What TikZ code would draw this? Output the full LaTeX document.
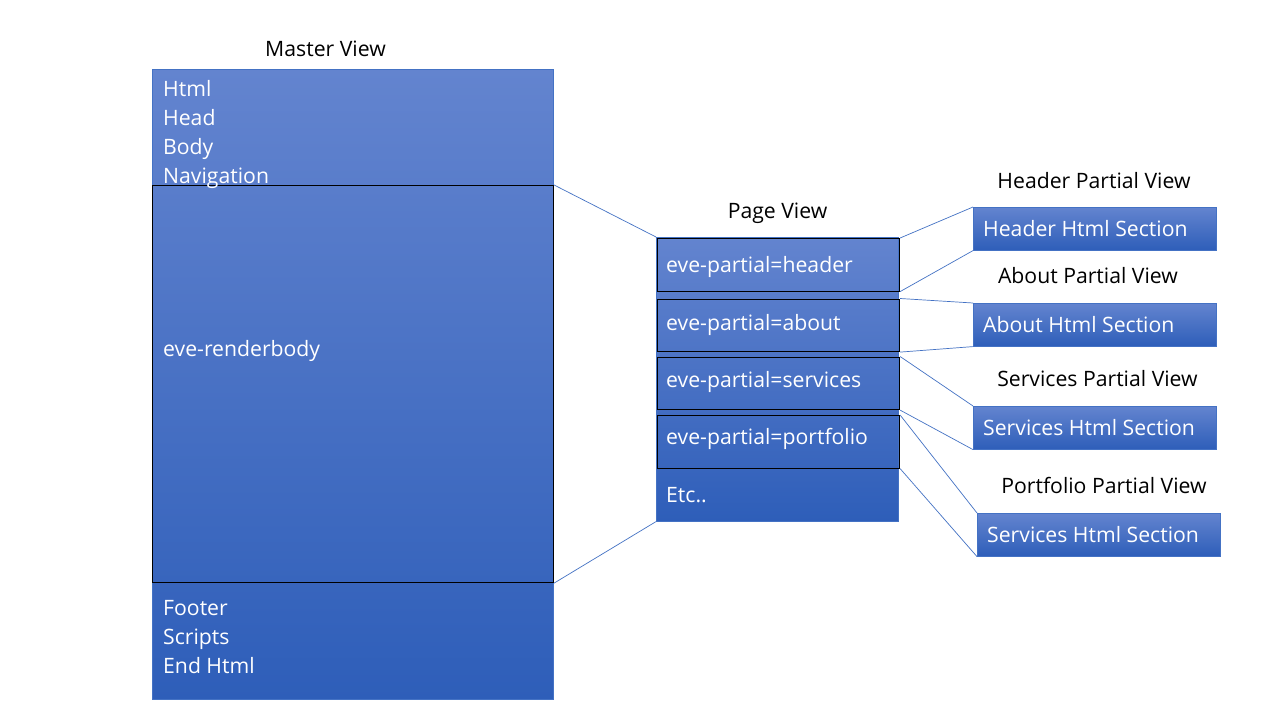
\documentclass[tikz,border=0pt]{standalone}
\usepackage{fontspec}
\setmainfont{Open Sans}
\definecolor{boxtop}{HTML}{6384CF}
\definecolor{boxbot}{HTML}{2E5EB9}
\definecolor{linkblue}{HTML}{4472C4}
\newcommand{\viewfont}{\fontsize{21.2}{25}\selectfont}
\tikzset{
  bluebox/.style={rectangle, top color=boxtop, bottom color=boxbot, draw=linkblue, line width=0.6pt, inner sep=0pt, anchor=north west},
  slot/.style={rectangle, draw=black, line width=1.1pt, inner sep=0pt, anchor=north west},
  viewtitle/.style={text=black, font=\viewfont, inner sep=0pt, anchor=base},
  boxtext/.style={text=white, font=\viewfont, inner sep=0pt, anchor=base west},
  link/.style={draw=linkblue, line width=0.7pt}
}
\begin{document}
\begin{tikzpicture}[x=1pt, y=-1pt]

    \useasboundingbox[fill=white] (0,0) rectangle (1280,720);

% Master view
	\node[viewtitle] (mastertitle) at (325.5,56.5) {Master View};
	\node[bluebox, minimum width=401, minimum height=630] (master) at (152,69) {};
	\node[slot, minimum width=401, minimum height=397] (renderbody) at (152,185) {};

	\foreach \txt [count=\i from 0] in {Html, Head, Body, Navigation}
		\node[boxtext] (top\i) at (163,96+29*\i) {\txt};
	\node[boxtext] (rbtext) at (163,356) {eve-renderbody};
	\foreach \txt [count=\i from 0] in {Footer, Scripts, End Html}
		\node[boxtext] (bot\i) at (163,615+29*\i) {\txt};

% Page view
	\node[viewtitle] (pagetitle) at (777.5,218) {Page View};
	\node[bluebox, minimum width=242, minimum height=284] (page) at (656,237) {};

	\foreach \name/\ytop/\ybase/\txt in {hdr/238/272/header, abt/298.5/330/about, srv/356.5/387.5/services, prt/415/444.5/portfolio}
	{
		\node[slot, minimum width=242, minimum height=52.5] (\name) at (657,\ytop) {};
		\node[boxtext] at (666,\ybase) {eve-partial=\txt};
	}
	\node[boxtext] (etc) at (666,502) {Etc..};

	\draw[link] (renderbody.north east) -- (page.north west);
	\draw[link] (renderbody.south east) -- (page.south west);

% Partial views
	\foreach \name/\x/\y/\ttl/\txt in {hdrsec/973/207/Header/Header, abtsec/973/303/About/About, srvsec/973/406/Services/Services, prtsec/977/513/Portfolio/Services}
	{
		\node[bluebox, minimum width=243, minimum height=43] (\name) at (\x,\y) {};
		\node[boxtext] at (\x+10,\y+29) {\txt\ Html Section};
	}
	\node[viewtitle] (hdrtitle) at (1094,188) {Header Partial View};
	\node[viewtitle] (abttitle) at (1088,283) {About Partial View};
	\node[viewtitle] (srvtitle) at (1097.5,386) {Services Partial View};
	\node[viewtitle] (prttitle) at (1104,493) {Portfolio Partial View};

	\foreach \name in {hdr, abt, srv, prt}
	{
		\draw[link] (\name.north east) -- (\name sec.north west);
		\draw[link] (\name.south east) -- (\name sec.south west);
	}

\end{tikzpicture}
\end{document}
